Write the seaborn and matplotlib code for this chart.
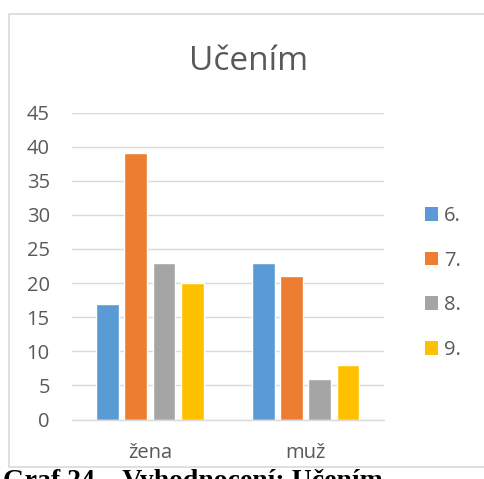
import matplotlib
matplotlib.use("Agg")
import matplotlib.pyplot as plt
import seaborn as sns
import pandas as pd
from matplotlib.patches import Rectangle

categories = ["žena", "muž"]
series = ["6.", "7.", "8.", "9."]
values_6 = [17, 23]
values_7 = [39, 21]
values_8 = [23, 6]
values_9 = [20, 8]
colors = ["#5B9BD5", "#ED7D31", "#A5A5A5", "#FFC000"]
yticks = [0, 5, 10, 15, 20, 25, 30, 35, 40, 45]

rows = []
for s, vals in zip(series, [values_6, values_7, values_8, values_9]):
    for c, v in zip(categories, vals):
        rows.append({"cat": c, "series": s, "value": v})
df = pd.DataFrame(rows)

sns.set_theme(style="white")
plt.rcParams["font.family"] = ["Open Sans", "DejaVu Sans"]
txt = "#595959"
grid = "#D9D9D9"
fs = 14.5

fig = plt.figure(figsize=(4.84, 4.79), dpi=100)
W, H = 484, 479
ax = fig.add_axes([72 / W, 1 - 419.5 / H, (383.5 - 72) / W, (419.5 - 112.5) / H])

sns.barplot(data=df, x="cat", y="value", hue="series", order=categories,
            hue_order=series, palette=colors, width=0.726, gap=0.19,
            saturation=1, ax=ax, legend=False)

ax.set_ylim(0, 45)
ax.set_xlim(-0.5, 1.5)
ax.set_yticks(yticks)
ax.set_yticklabels([str(t) for t in yticks])
ax.yaxis.grid(True, color=grid, linewidth=1)
ax.set_axisbelow(True)
for side in ["top", "right", "left"]:
    ax.spines[side].set_visible(False)
ax.spines["bottom"].set_color(grid)
ax.spines["bottom"].set_linewidth(1)
ax.tick_params(axis="y", length=0, pad=16, labelsize=fs, labelcolor=txt)
ax.tick_params(axis="x", length=0, pad=17, labelsize=fs, labelcolor=txt)
ax.set_xlabel("")
ax.set_ylabel("")

fig.text(249 / W, 1 - 70 / H, "Učením", ha="center", va="baseline",
         fontsize=24, color=txt)

handles = [Rectangle((0, 0), 1, 1, facecolor=c, edgecolor="none") for c in colors]
leg = fig.legend(handles, series, loc="center left",
                 bbox_to_anchor=(425 / W, 1 - 283 / H), frameon=False,
                 borderpad=0, borderaxespad=0,
                 fontsize=fs, labelcolor=txt, handlelength=0.65,
                 handleheight=0.65, handletextpad=0.3, labelspacing=1.22)

# chart border
fig.add_artist(Rectangle((8.5 / W, 1 - 467 / H), (W - 8) / W, (467 - 13.5) / H,
                         transform=fig.transFigure, facecolor="none",
                         edgecolor=grid, linewidth=1.2, clip_on=False))

# caption below the chart (cut off at the bottom edge, as in the source)
fig.text(3 / W, 1 - 488 / H, "Graf 24 – Vyhodnocení: Učením", ha="left", va="baseline",
         fontsize=20, fontweight="bold", family="Liberation Serif", color="black")

fig.savefig("out.png", dpi=100)
